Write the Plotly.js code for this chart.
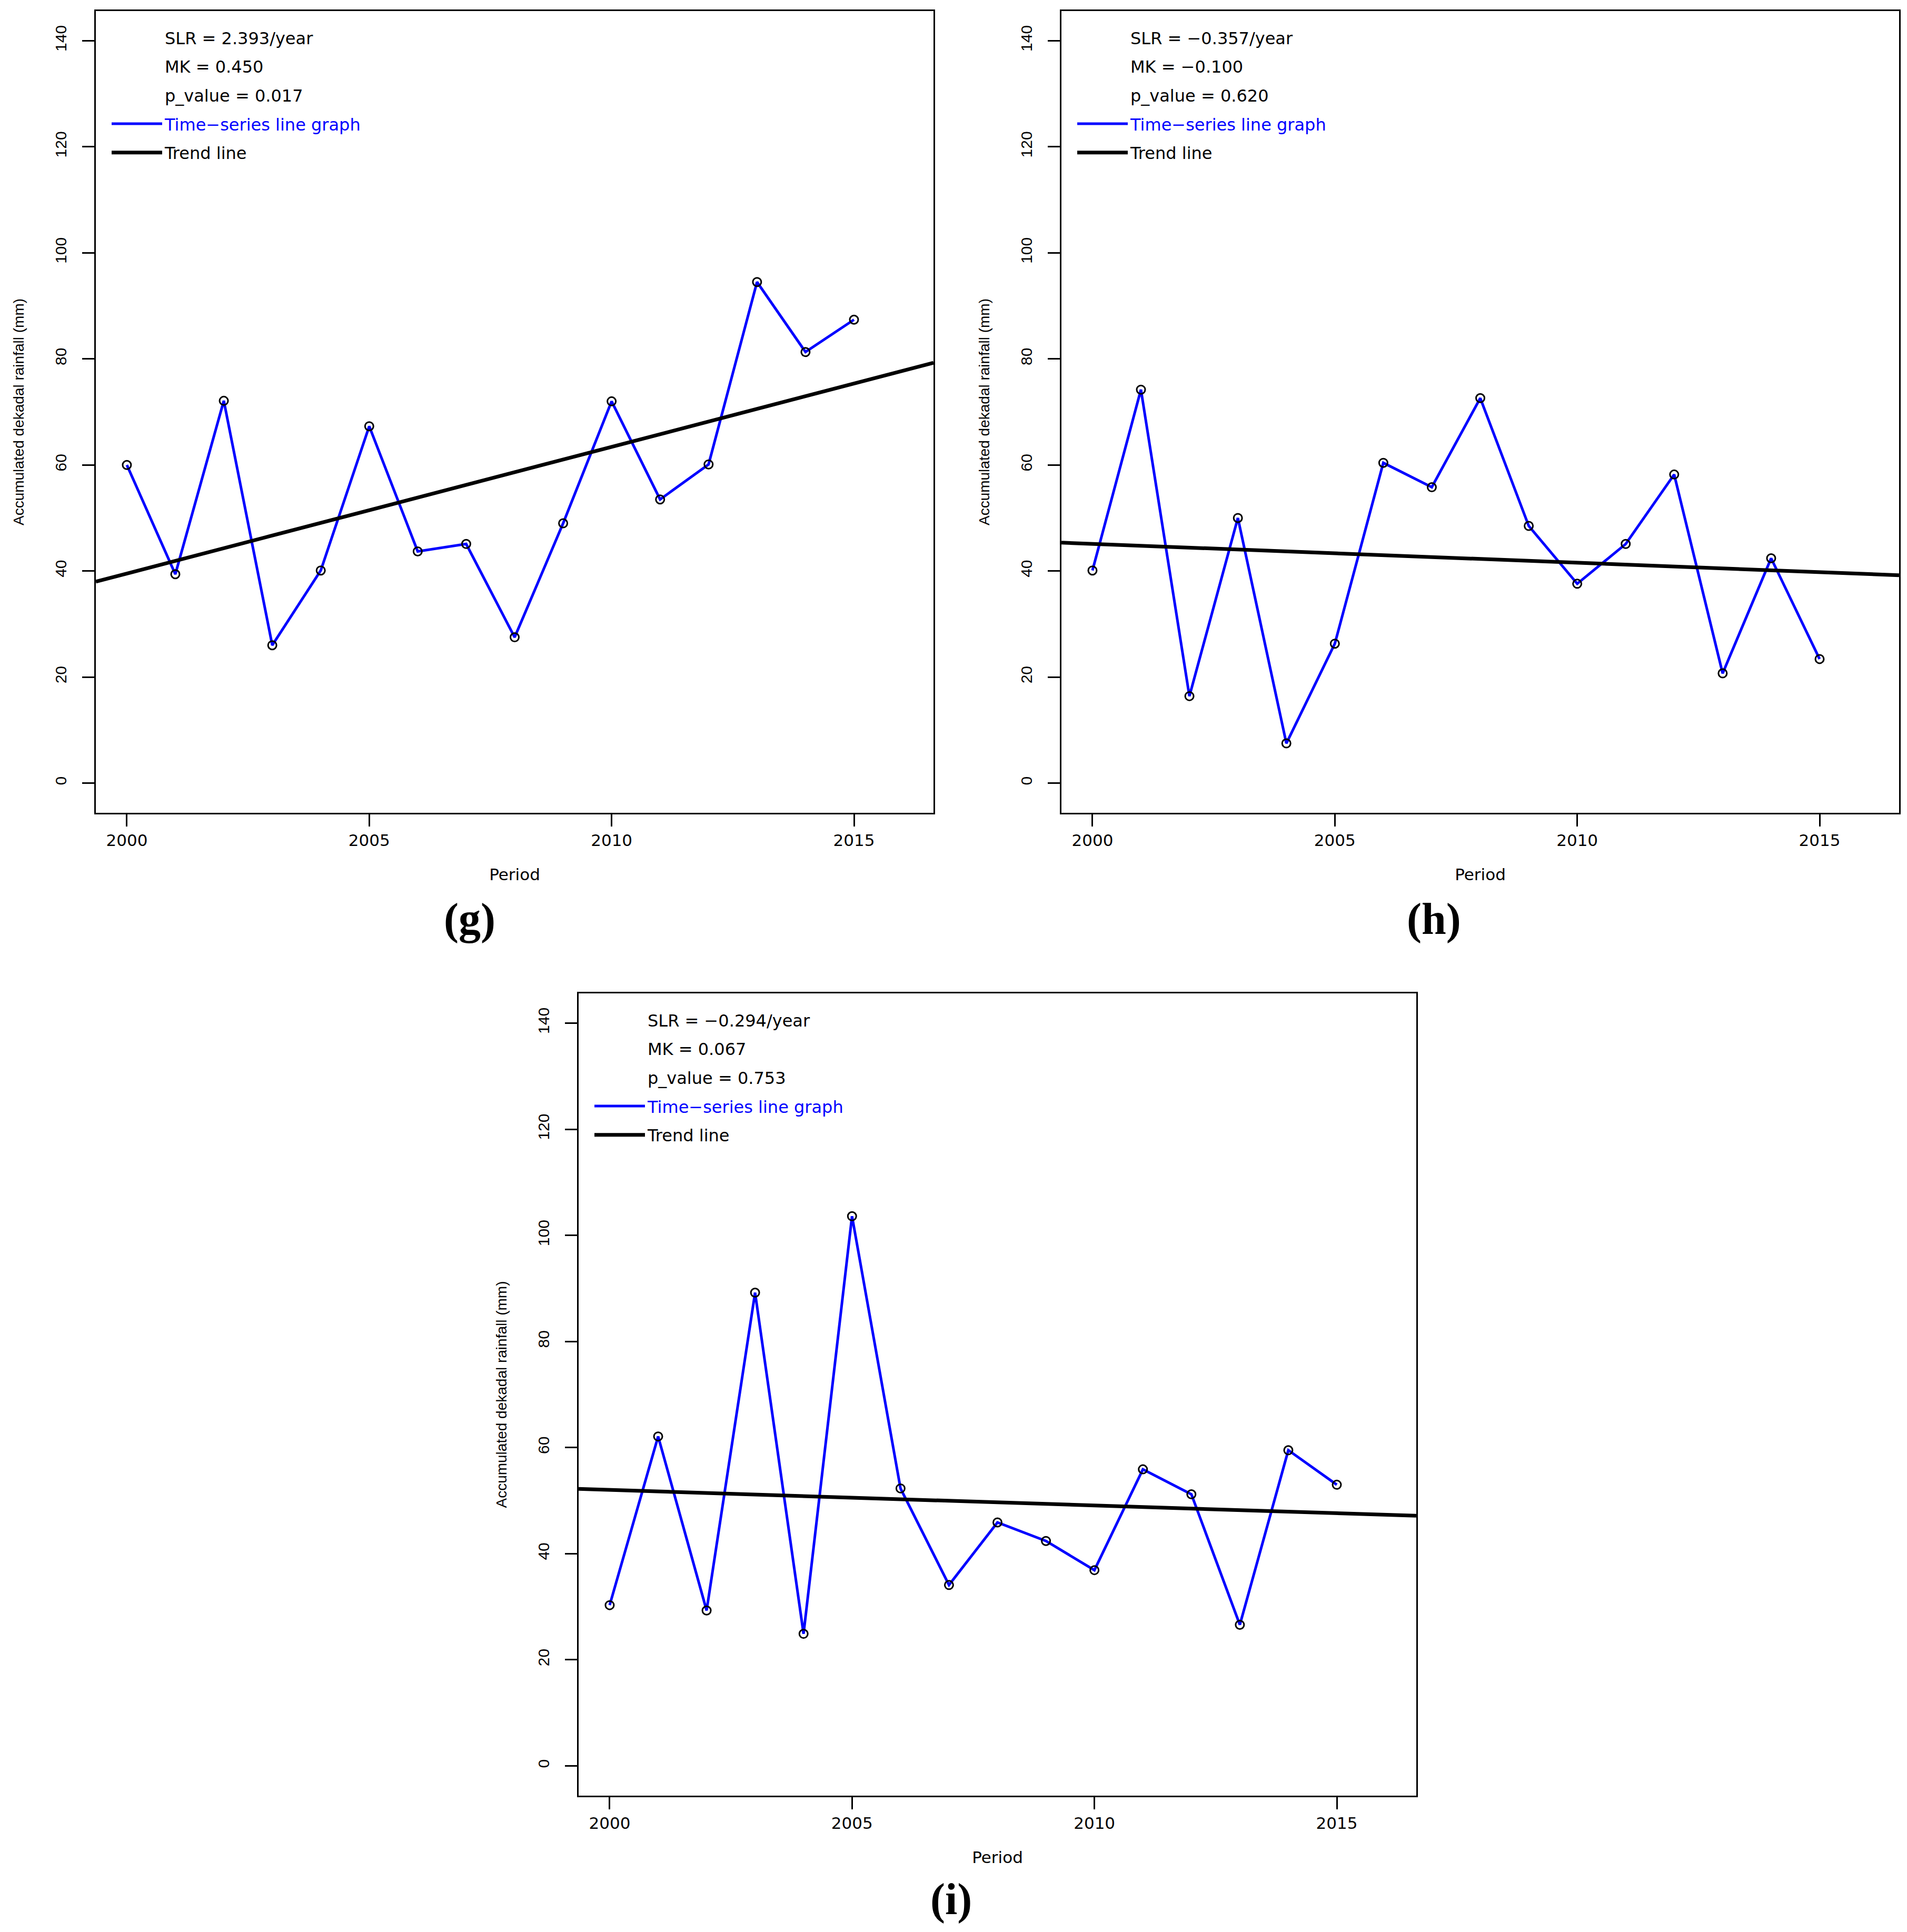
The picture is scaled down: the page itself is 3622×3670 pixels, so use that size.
<!DOCTYPE html>
<html>
<head>
<meta charset="utf-8">
<script src="https://cdn.plot.ly/plotly-3.0.1.min.js"></script>
<style>
  html, body { margin: 0; padding: 0; background: #ffffff; }
  #chart { width: 3622px; height: 3670px; }
</style>
</head>
<body>
<div id="chart"></div>
<script>
// values (g, h, i)
years = [2000, 2001, 2002, 2003, 2004, 2005, 2006, 2007, 2008, 2009, 2010, 2011, 2012, 2013, 2014, 2015]
rainG = [60.0, 39.4, 72.1, 26.0, 40.1, 67.3, 43.7, 45.1, 27.5, 49.0, 72.0, 53.5, 60.1, 94.5, 81.3, 87.4]
rainH = [40.1, 74.2, 16.4, 50.0, 7.5, 26.3, 60.4, 55.8, 72.6, 48.5, 37.6, 45.1, 58.2, 20.7, 42.4, 23.4]
rainI = [30.3, 62.1, 29.3, 89.2, 24.9, 103.6, 52.3, 34.1, 45.9, 42.4, 36.9, 55.9, 51.2, 26.6, 59.5, 53.0]

panelLabels = ['(g)', '(h)', '(i)']
slrText = ['2.393', '\u22120.357', '\u22120.294']
mkText = ['0.450', '\u22120.100', '0.067']
pText = ['0.017', '0.620', '0.753']

yearTicks = [2000, 2005, 2010, 2015]
rainTicks = [0, 20, 40, 60, 80, 100, 120, 140]

const W = 3622, H = 3670
const SANS = 'DejaVu Sans, Liberation Sans, sans-serif'
const NARROW = 'Liberation Sans, Arial, sans-serif'
const SERIF = 'Liberation Serif, DejaVu Serif, serif'
const X_RANGE = [1999.36, 2016.64]
const Y_RANGE = [-5.6, 145.6]

// plot boxes in page pixels, and where the panel letter sits
const boxes = [
  { left: 182, right: 1773, top: 21, bottom: 1544, label: [892, 1746] },
  { left: 2016, right: 3607, top: 21, bottom: 1544, label: [2723, 1746] },
  { left: 1099, right: 2690, top: 1887, bottom: 3411, label: [1806, 3608] }
]

// ordinary least squares, same as the trend line in the figure
fitLine = (xs, ys) => {
  let mx = xs.reduce((a, b) => a + b, 0) / xs.length
  let my = ys.reduce((a, b) => a + b, 0) / ys.length
  let sxy = 0, sxx = 0
  xs.forEach((x, i) => {
    sxy += (x - mx) * (ys[i] - my)
    sxx += (x - mx) * (x - mx)
  })
  let slope = sxy / sxx
  return { slope: slope, intercept: my - slope * mx }
}

let series = [rainG, rainH, rainI]
let data = []
let layout = {
  width: W,
  height: H,
  margin: { l: 0, r: 0, t: 0, b: 0 },
  paper_bgcolor: '#ffffff',
  plot_bgcolor: '#ffffff',
  showlegend: true,
  annotations: []
}

series.forEach((rain, i) => {
  let n = i === 0 ? '' : String(i + 1)
  let xa = 'x' + n, ya = 'y' + n
  let leg = 'legend' + n
  let box = boxes[i]

  // text-only legend rows
  let stats = ['SLR = ' + slrText[i] + '/year', 'MK = ' + mkText[i], 'p_value = ' + pText[i]]
  stats.forEach((txt, k) => {
    data.push({
      type: 'scatter', mode: 'lines', x: [null], y: [null],
      xaxis: xa, yaxis: ya, legend: leg, legendgroup: leg + 's' + k,
      name: txt, line: { color: 'rgba(0,0,0,0)', width: 4 }, hoverinfo: 'skip'
    })
  })

  data.push({
    type: 'scatter', mode: 'lines', x: years, y: rain,
    xaxis: xa, yaxis: ya, legend: leg, legendgroup: leg + 'ts',
    name: '<span style="color:#0000ff">Time\u2212series line graph</span>',
    line: { color: '#0000ff', width: 5 }, hoverinfo: 'skip'
  })
  data.push({
    type: 'scatter', mode: 'markers', x: years, y: rain,
    xaxis: xa, yaxis: ya, showlegend: false,
    marker: { symbol: 'circle-open', size: 16, color: '#000000', line: { width: 3, color: '#000000' } },
    hoverinfo: 'skip'
  })

  let fit = fitLine(years, rain)
  data.push({
    type: 'scatter', mode: 'lines', x: X_RANGE, y: X_RANGE.map(x => fit.intercept + fit.slope * x),
    xaxis: xa, yaxis: ya, legend: leg, legendgroup: leg + 'tr',
    name: 'Trend line', line: { color: '#000000', width: 7 }, hoverinfo: 'skip'
  })

  layout['xaxis' + n] = {
    domain: [box.left / W, box.right / W],
    anchor: ya,
    range: X_RANGE,
    tickvals: yearTicks,
    ticktext: yearTicks.map(String),
    ticks: 'outside', ticklen: 23, tickwidth: 3, tickcolor: '#000000',
    ticklabelstandoff: 0,
    tickfont: { family: SANS, size: 31, color: '#000000' },
    showline: true, mirror: true, linewidth: 3, linecolor: '#000000',
    showgrid: false, zeroline: false, fixedrange: true,
    title: { text: 'Period', font: { family: SANS, size: 31, color: '#000000' }, standoff: 38 }
  }
  layout['yaxis' + n] = {
    domain: [1 - box.bottom / H, 1 - box.top / H],
    anchor: xa,
    range: Y_RANGE,
    tickvals: rainTicks,
    ticktext: rainTicks.map(String),
    tickangle: -90,
    ticks: 'outside', ticklen: 23, tickwidth: 3, tickcolor: '#000000',
    ticklabelstandoff: 18,
    tickfont: { family: NARROW, size: 30, color: '#000000' },
    showline: true, mirror: true, linewidth: 3, linecolor: '#000000',
    showgrid: false, zeroline: false, fixedrange: true,
    title: { text: 'Accumulated dekadal rainfall (mm)', font: { family: NARROW, size: 28, color: '#000000' }, standoff: 46 }
  }

  layout[leg] = {
    x: (box.left + 25) / W,
    y: 1 - (box.top + 23) / H,
    xanchor: 'left', yanchor: 'top',
    bgcolor: 'rgba(0,0,0,0)', borderwidth: 0,
    font: { family: SANS, size: 32, color: '#000000' },
    itemwidth: 96,
    traceorder: 'grouped',
    tracegroupgap: 10,
    itemclick: false, itemdoubleclick: false
  }

  layout.annotations.push({
    text: '<b>' + panelLabels[i] + '</b>',
    xref: 'paper', yref: 'paper',
    x: box.label[0] / W, y: 1 - box.label[1] / H,
    xanchor: 'center', yanchor: 'middle', showarrow: false,
    font: { family: SERIF, size: 84, color: '#000000' }
  })
})

Plotly.newPlot('chart', data, layout, { displayModeBar: false, staticPlot: true })
</script>
</body>
</html>
